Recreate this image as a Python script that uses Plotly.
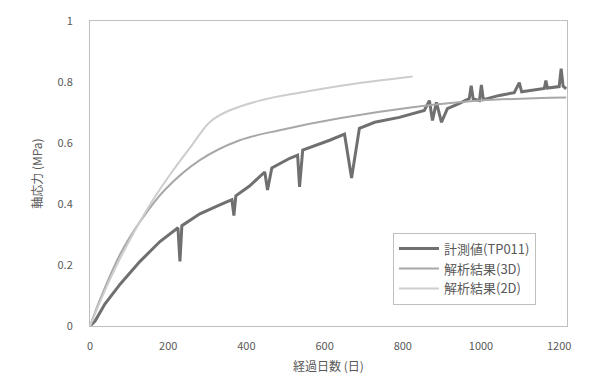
import plotly.graph_objects as go

# measured (noisy, dark)
meas_days = [0, 13, 38, 77, 128, 179, 225, 230, 235, 281, 332, 363, 368, 373, 408, 447, 454, 465,
             511, 531, 536, 544, 613, 651, 669, 689, 728, 791, 855, 868, 876, 886, 899, 914, 945,
             970, 975, 980, 996, 1001, 1006, 1047, 1085, 1098, 1104, 1123, 1162, 1166, 1170, 1200,
             1205, 1210, 1218]
meas_vals = [0.0, 0.016, 0.072, 0.137, 0.212, 0.277, 0.322, 0.212, 0.329, 0.368, 0.397, 0.414,
             0.362, 0.427, 0.459, 0.505, 0.446, 0.518, 0.55, 0.56, 0.456, 0.577, 0.609, 0.629,
             0.485, 0.648, 0.668, 0.684, 0.707, 0.739, 0.674, 0.733, 0.668, 0.713, 0.73, 0.746,
             0.788, 0.745, 0.739, 0.79, 0.742, 0.756, 0.765, 0.798, 0.768, 0.772, 0.779, 0.805,
             0.78, 0.785, 0.844, 0.786, 0.778]

# analysis 3D (middle)
a3_days = [0, 26, 77, 128, 191, 281, 383, 485, 638, 825, 996, 1218]
a3_vals = [0.0, 0.088, 0.235, 0.342, 0.446, 0.544, 0.609, 0.642, 0.681, 0.717, 0.739, 0.749]

# analysis 2D (top, light)
a2_days = [0, 51, 102, 153, 204, 255, 306, 345, 434, 536, 664, 825]
a2_vals = [0.0, 0.153, 0.283, 0.397, 0.495, 0.583, 0.668, 0.700, 0.739, 0.765, 0.792, 0.818]

names = ["計測値(TP011)", "解析結果(3D)", "解析結果(2D)"]
x_ticks = [0, 200, 400, 600, 800, 1000, 1200]
y_ticks = [0, 0.2, 0.4, 0.6, 0.8, 1]
y_tick_text = ["0", "0.2", "0.4", "0.6", "0.8", "1"]

fig = go.Figure()
fig.add_trace(go.Scatter(x=meas_days, y=meas_vals, mode="lines", name=names[0],
                         line=dict(color="#707070", width=3)))
fig.add_trace(go.Scatter(x=a3_days, y=a3_vals, mode="lines", name=names[1],
                         line=dict(color="#a8a8a8", width=2, shape="spline")))
fig.add_trace(go.Scatter(x=a2_days, y=a2_vals, mode="lines", name=names[2],
                         line=dict(color="#cdcdcd", width=2, shape="spline")))

font_fam = "Noto Sans CJK JP, Noto Sans, sans-serif"
fig.update_layout(
    width=596, height=384,
    margin=dict(l=90, r=29, t=20, b=57),
    paper_bgcolor="white", plot_bgcolor="white",
    font=dict(family=font_fam, size=11, color="#595959"),
    showlegend=True,
    legend=dict(x=0.935, y=0.07, xanchor="right", yanchor="bottom",
                bordercolor="#bfbfbf", borderwidth=1, bgcolor="white",
                font=dict(size=13, color="#595959"), tracegroupgap=0, itemwidth=40),
    xaxis=dict(range=[0, 1220], tickvals=x_ticks, showgrid=False, zeroline=False,
               showline=True, linecolor="#bfbfbf", linewidth=1, mirror=True,
               ticks="", ticklabelstandoff=10,
               title=dict(text="経過日数 (日)", font=dict(size=12, color="#595959"), standoff=10)),
    yaxis=dict(range=[0, 1], tickvals=y_ticks, ticktext=y_tick_text, showgrid=False,
               zeroline=False, showline=True, linecolor="#bfbfbf", linewidth=1, mirror=True,
               ticks="", ticklabelstandoff=14,
               title=dict(text="軸応力 (MPa)", font=dict(size=12, color="#595959"), standoff=12)),
)
fig.write_html("out.html")
